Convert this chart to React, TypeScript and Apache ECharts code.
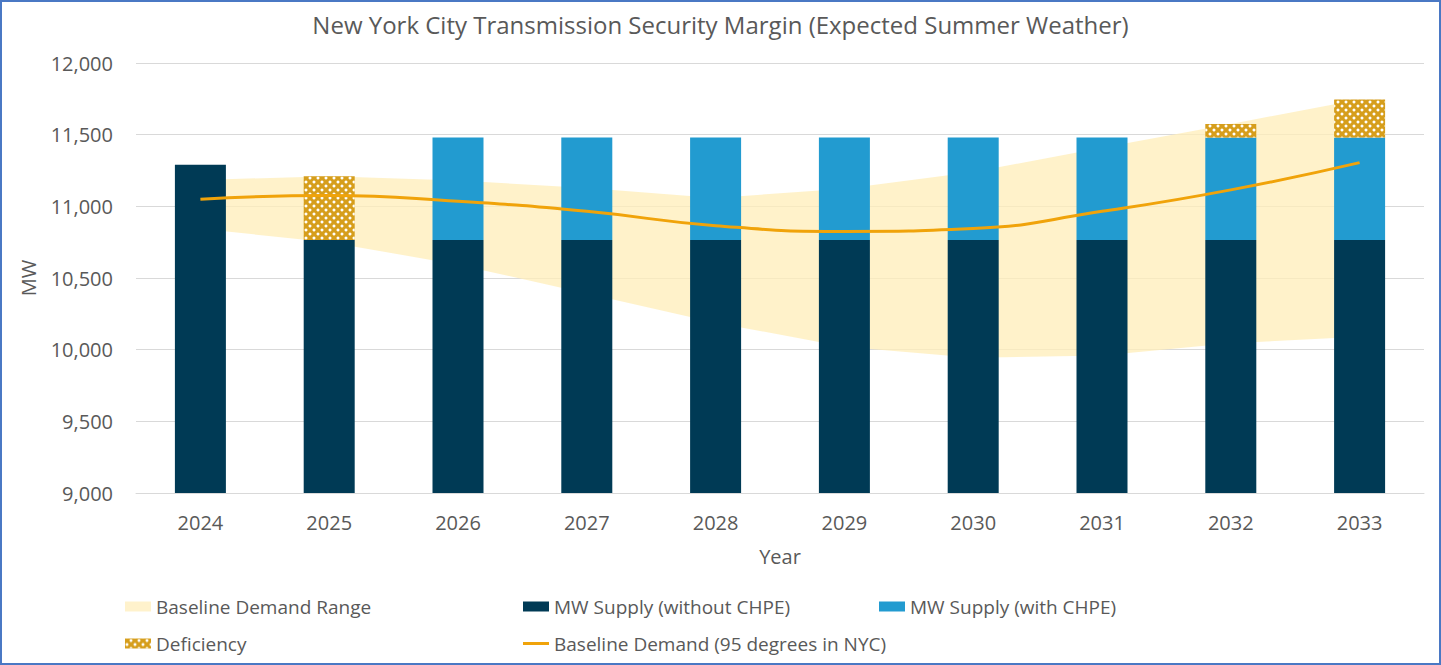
import React, { useEffect, useRef } from "react";
import * as echarts from "echarts";

const years = ["2024", "2025", "2026", "2027", "2028", "2029", "2030", "2031", "2032", "2033"];
const supplyWithoutChpe = [11290, 10765, 10765, 10765, 10765, 10765, 10765, 10765, 10765, 10765];
const chpeIncrement = [0, 0, 715, 715, 715, 715, 715, 715, 715, 715];
const deficiency = [0, 445, 0, 0, 0, 0, 0, 0, 95, 265];
const baselineDemand = [11050, 11075, 11035, 10965, 10865, 10825, 10845, 10965, 11115, 11305];
const demandRangeLow = [10843, 10750, 10593, 10392, 10188, 10021, 9944, 9960, 10044, 10090];
const demandRangeHigh = [11184, 11210, 11180, 11128, 11059, 11123, 11240, 11409, 11575, 11745];
const yMin = 9000;
const yMax = 12000;
const yStep = 500;

const FONT = "'Open Sans', sans-serif";
const TXT = "#595959";

export default function App() {
  const ref = useRef<HTMLDivElement>(null);
  useEffect(() => {
    document.body.style.margin = "0";
    if (!ref.current) return;
    const chart = echarts.init(ref.current, undefined, { renderer: "svg" });
    const rangeDiff = demandRangeHigh.map((h, i) => h - demandRangeLow[i]);
    const legendText = { color: TXT, fontSize: 19, fontFamily: FONT };
    const legendBase = {
      itemWidth: 26,
      itemHeight: 10,
      padding: 0,
      selectedMode: false as const,
      textStyle: legendText,
    };
    chart.setOption({
      animation: false,
      backgroundColor: "#ffffff",
      textStyle: { fontFamily: FONT },
      title: {
        text: "New York City Transmission Security Margin (Expected Summer Weather)",
        left: "center",
        top: 7,
        textStyle: { color: TXT, fontSize: 24, fontWeight: "normal", fontFamily: FONT },
      },
      graphic: [
        {
          type: "rect",
          shape: { x: 1, y: 1, width: 1439, height: 663 },
          style: { fill: "none", stroke: "#4a78c4", lineWidth: 2 },
          silent: true,
          z: 100,
        },
      ],
      legend: [
        { ...legendBase, left: 125, top: 597, data: [{ name: "Baseline Demand Range", icon: "rect", itemStyle: { color: "#fff2cc" } }] },
        { ...legendBase, left: 523, top: 597, data: [{ name: "MW Supply (without CHPE)", icon: "rect" }] },
        { ...legendBase, left: 879, top: 597, data: [{ name: "MW Supply (with CHPE)", icon: "rect" }] },
        { ...legendBase, left: 125, top: 634, data: [{ name: "Deficiency", icon: "rect" }] },
        { ...legendBase, left: 523, top: 634, itemHeight: 3, data: [{ name: "Baseline Demand (95 degrees in NYC)", icon: "rect", itemStyle: { color: "#f0a30a" } }] },
      ],
      grid: { left: 136, right: 17, top: 63, bottom: 172, containLabel: false },
      xAxis: {
        type: "category",
        data: years,
        name: "Year",
        nameLocation: "middle",
        nameGap: 53,
        nameTextStyle: { color: TXT, fontSize: 20, fontFamily: FONT },
        axisLine: { show: true, lineStyle: { color: "#d9d9d9", width: 1 } },
        axisTick: { show: false },
        axisLabel: { color: TXT, fontSize: 20, fontFamily: FONT, margin: 19 },
      },
      yAxis: {
        type: "value",
        min: yMin,
        max: yMax,
        interval: yStep,
        name: "MW",
        nameLocation: "middle",
        nameGap: 98,
        nameTextStyle: { color: TXT, fontSize: 20, fontFamily: FONT },
        axisLine: { show: false },
        axisTick: { show: false },
        axisLabel: {
          color: TXT,
          fontSize: 20,
          fontFamily: FONT,
          margin: 23,
          formatter: (v: number) => v.toLocaleString("en-US"),
        },
        splitLine: { lineStyle: { color: "#d9d9d9", width: 1 } },
      },
      series: [
        {
          name: "rangeLower",
          type: "line",
          stack: "range",
          data: demandRangeLow,
          symbol: "none",
          lineStyle: { opacity: 0 },
          silent: true,
          z: 1,
        },
        {
          name: "Baseline Demand Range",
          type: "line",
          stack: "range",
          data: rangeDiff,
          symbol: "none",
          lineStyle: { opacity: 0 },
          itemStyle: { color: "#fff2cc" },
          areaStyle: { color: "#ffeeb8", opacity: 0.75 },
          silent: true,
          z: 1,
        },
        {
          name: "MW Supply (without CHPE)",
          type: "bar",
          stack: "supply",
          data: supplyWithoutChpe,
          barWidth: 51,
          itemStyle: { color: "#003a55" },
          z: 2,
        },
        {
          name: "MW Supply (with CHPE)",
          type: "bar",
          stack: "supply",
          data: chpeIncrement,
          barWidth: 51,
          itemStyle: { color: "#229bd0" },
          z: 2,
        },
        {
          name: "Deficiency",
          type: "bar",
          stack: "supply",
          data: deficiency,
          barWidth: 51,
          itemStyle: {
            color: "#d69e1c",
            decal: {
              symbol: "circle",
              symbolSize: 0.75,
              color: "#ffffff",
              dashArrayX: [[3.5, 3.5], [0, 3.5, 3.5, 0]],
              dashArrayY: [3.5, 0],
              rotation: 0,
            },
          },
          z: 2,
        },
        {
          name: "Baseline Demand (95 degrees in NYC)",
          type: "line",
          data: baselineDemand,
          smooth: true,
          symbol: "none",
          lineStyle: { color: "#f0a30a", width: 3 },
          itemStyle: { color: "#f0a30a" },
          z: 3,
        },
      ],
    });
    return () => chart.dispose();
  }, []);
  return <div ref={ref} style={{ width: 1441, height: 665 }} />;
}
